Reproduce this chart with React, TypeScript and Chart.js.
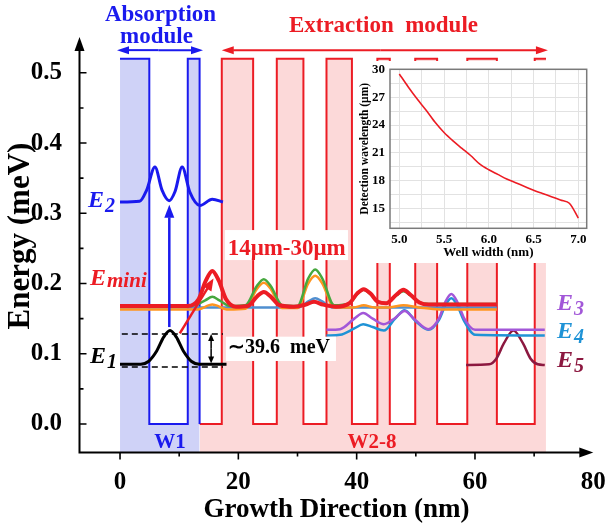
import React, { useEffect, useRef } from "react";
import { Chart, registerables } from "chart.js";

Chart.register(...registerables);

const SERIF = "'Liberation Serif', 'Times New Roman', Times, serif";

// ---------------- main chart axes ----------------
const X_MIN = -6.85;
const X_MAX = 80;
const Y_MIN = -0.0406;
const Y_MAX = 0.551;
const xMajorTicks = [0, 20, 40, 60, 80];
const xMinorTicks = [10, 30, 50, 70];
const yMajorTicks = [0, 0.1, 0.2, 0.3, 0.4, 0.5];
const yMinorTicks = [0.05, 0.15, 0.25, 0.35, 0.45];
const xTitle = "Growth Direction (nm)";
const yTitle = "Energy (meV)";

// ---------------- band profiles ----------------
const absorptionX = [0, 4.95, 4.95, 11.45, 11.45, 13.45, 13.45];
const absorptionY = [0.52, 0.52, 0, 0, 0.52, 0.52, 0];
const extractionX = [13.45, 17.2, 17.2, 22.5, 22.5, 26.5, 26.5, 31.0, 31.0, 34.9, 34.9, 39.2, 39.2, 43.5, 43.5, 45.6, 45.6, 49.9, 49.9, 53.6, 53.6, 58.7, 58.7, 63.7, 63.7, 70.1, 70.1, 72.0];
const extractionY = [0, 0, 0.52, 0.52, 0, 0, 0.52, 0.52, 0, 0, 0.52, 0.52, 0, 0, 0.52, 0.52, 0, 0, 0.52, 0.52, 0, 0, 0.52, 0.52, 0, 0, 0.52, 0.52];

// ---------------- wavefunctions ----------------
const e1X = [0, 3.5, 4.8, 6.2, 7.4, 8.45, 9.5, 10.7, 12.1, 13.4, 18];
const e1Y = [0.085, 0.085, 0.089, 0.104, 0.124, 0.133, 0.124, 0.104, 0.089, 0.085, 0.085];

const e2X = [0, 3.3, 4.5, 5.9, 7.1, 8.3, 9.3, 10.5, 11.8, 13.5, 15.6, 17.4];
const e2Y = [0.316, 0.317, 0.333, 0.366, 0.333, 0.318, 0.331, 0.366, 0.33, 0.311, 0.32, 0.316];

const eminiX = [0, 11.5, 13.3, 14.5, 15.6, 16.7, 17.9, 19.6, 21.6, 23.2, 24.3, 25.4, 27.0, 29.4, 31.4, 32.8, 34.3, 36.5, 38.8, 40.1, 41.2, 42.3, 43.6, 45.0, 46.7, 47.9, 49.1, 50.6, 52.2, 63.7];
const eminiY = [0.168, 0.168, 0.178, 0.204, 0.218, 0.204, 0.178, 0.167, 0.168, 0.182, 0.188, 0.182, 0.169, 0.167, 0.17, 0.174, 0.17, 0.167, 0.172, 0.186, 0.192, 0.186, 0.174, 0.172, 0.184, 0.191, 0.184, 0.173, 0.17, 0.17];

const greenX = [0, 12.5, 14.4, 15.6, 16.8, 18.6, 21.2, 23.1, 24.3, 25.5, 27.4, 30.0, 31.8, 33.0, 34.2, 36.2, 38.8, 40.1, 41.2, 42.3, 43.6, 45.0, 46.7, 47.9, 49.1, 50.6, 52.2, 63.7];
const greenY = [0.169, 0.169, 0.176, 0.181, 0.176, 0.168, 0.169, 0.196, 0.206, 0.196, 0.169, 0.168, 0.207, 0.22, 0.207, 0.169, 0.172, 0.185, 0.191, 0.185, 0.174, 0.172, 0.183, 0.189, 0.183, 0.173, 0.171, 0.171];

const orangeX = [0, 13.0, 15.6, 18.3, 21.2, 23.1, 24.3, 25.5, 27.4, 30.0, 31.8, 33.0, 34.2, 36.2, 39.5, 41.2, 43.0, 45.5, 47.9, 50.5, 54.0, 63.7];
const orangeY = [0.163, 0.163, 0.17, 0.163, 0.164, 0.192, 0.201, 0.192, 0.165, 0.165, 0.2, 0.211, 0.2, 0.166, 0.166, 0.169, 0.166, 0.166, 0.169, 0.166, 0.163, 0.163];

const steelX = [0, 30.2, 31.9, 33.0, 34.1, 35.8, 63.7];
const steelY = [0.166, 0.166, 0.175, 0.179, 0.175, 0.166, 0.166];

const e3X = [34.9, 37.2, 39.6, 41.1, 42.7, 44.6, 46.5, 48.1, 49.9, 52.1, 53.9, 55.0, 56.0, 57.0, 58.2, 60.0, 71.8];
const e3Y = [0.134, 0.135, 0.15, 0.158, 0.15, 0.142, 0.151, 0.161, 0.148, 0.135, 0.15, 0.174, 0.185, 0.174, 0.15, 0.134, 0.134];
const e4X = [34.9, 37.2, 39.6, 41.1, 42.7, 44.6, 46.5, 48.1, 49.9, 52.1, 53.9, 55.0, 56.0, 57.0, 58.2, 60.0, 71.8];
const e4Y = [0.126, 0.127, 0.136, 0.142, 0.138, 0.133, 0.15, 0.162, 0.147, 0.134, 0.148, 0.169, 0.179, 0.169, 0.146, 0.127, 0.126];
const e5X = [58.5, 62.4, 63.6, 64.9, 66.5, 68.1, 69.4, 70.6, 71.8];
const e5Y = [0.084, 0.085, 0.093, 0.115, 0.133, 0.115, 0.093, 0.085, 0.084];

const dashTopX = [0.3, 17.4];
const dashTopY = [0.128, 0.128];
const dashBottomX = [0.3, 17.4];
const dashBottomY = [0.081, 0.081];

// ---------------- inset ----------------
const wellWidth = [5.0, 5.1, 5.2, 5.3, 5.4, 5.5, 5.6, 5.7, 5.8, 5.9, 6.0, 6.1, 6.2, 6.3, 6.4, 6.5, 6.6, 6.7, 6.8, 6.9, 7.0];
const detectionWavelength = [29.5, 28.1, 26.8, 25.6, 24.3, 23.2, 22.3, 21.5, 20.7, 19.8, 19.2, 18.7, 18.2, 17.8, 17.4, 17.0, 16.65, 16.3, 15.95, 15.6, 14.0];
const insetXTicks = [5.0, 5.25, 5.5, 5.75, 6.0, 6.25, 6.5, 6.75, 7.0];
const insetYTicks = [13.5, 15, 16.5, 18, 19.5, 21, 22.5, 24, 25.5, 27, 28.5, 30];

// ---------------- colours ----------------
const BLUE = "#1a1aee";
const RED = "#ec1c24";
const PINK = "#fcd9d9";
const LAVENDER = "#cfd2f7";
const GREEN = "#46a83e";
const ORANGE = "#ff951f";
const STEEL = "#4f8fd0";
const PURPLE = "#a257d8";
const SKY = "#1f93d6";
const MAROON = "#8c1840";

const zip = (xs: number[], ys: number[]) => xs.map((x, i) => ({ x, y: ys[i] }));

// ---------------- annotations ----------------
const ARROWS = [
  { x1: 6.5, y1: 0.5323, x2: -0.51, y2: 0.5323, color: BLUE, width: 2, len: 12, half: 4 },
  { x1: 6.5, y1: 0.5323, x2: 14.03, y2: 0.5323, color: BLUE, width: 2, len: 12, half: 4 },
  { x1: 44, y1: 0.5323, x2: 17.19, y2: 0.5323, color: RED, width: 2, len: 12, half: 4 },
  { x1: 44, y1: 0.5323, x2: 72.33, y2: 0.5323, color: RED, width: 2, len: 12, half: 4 },
  { x1: 8.33, y1: 0.138, x2: 8.33, y2: 0.312, color: BLUE, width: 2.5, len: 13, half: 5 },
  { x1: 10.1, y1: 0.129, x2: 15.8, y2: 0.207, color: RED, width: 2.5, len: 12, half: 5 },
  { x1: 15.4, y1: 0.107, x2: 15.4, y2: 0.128, color: "#000", width: 1.5, len: 7, half: 3 },
  { x1: 15.4, y1: 0.107, x2: 15.4, y2: 0.086, color: "#000", width: 1.5, len: 7, half: 3 },
];

const BOXES = [
  { x1: 17.75, x2: 38.53, y1: 0.2334, y2: 0.2761 },
  { x1: 17.9, x2: 36.5, y1: 0.0897, y2: 0.1243 },
];

const TEXTS = [
  { text: "Absorption", x: 6.84, y: 0.574, size: 23, color: BLUE, align: "center" },
  { text: "module", x: 6.17, y: 0.5419, size: 23, color: BLUE, align: "center" },
  { text: "Extraction  module", x: 44.53, y: 0.5575, size: 23, color: RED, align: "center" },
  { text: "14\u03bcm-30\u03bcm", x: 28.17, y: 0.2405, size: 23, color: RED, align: "center" },
  { text: "\u223c39.6  meV", x: 18.25, y: 0.1006, size: 20, color: "#000", align: "left" },
  { text: "W1", x: 8.45, y: -0.0346, size: 21, color: BLUE, align: "center" },
  { text: "W2-8", x: 42.59, y: -0.0346, size: 21, color: RED, align: "center" },
];

const LEVEL_LABELS = [
  { main: "E", sub: "2", x: -5.41, y: 0.3089, color: BLUE, dy: 5 },
  { main: "E", sub: "1", x: -5.07, y: 0.0868, color: "#000", dy: 5 },
  { main: "E", sub: "mini", x: -5.07, y: 0.1978, color: RED, dy: 2 },
  { main: "E", sub: "3", x: 73.85, y: 0.1623, color: PURPLE, dy: 5 },
  { main: "E", sub: "4", x: 73.85, y: 0.1224, color: SKY, dy: 5 },
  { main: "E", sub: "5", x: 73.85, y: 0.0811, color: MAROON, dy: 5 },
];

function drawArrow(ctx: CanvasRenderingContext2D, fx: number, fy: number, tx: number, ty: number, a: any) {
  const ang = Math.atan2(ty - fy, tx - fx);
  const bx = tx - a.len * Math.cos(ang);
  const by = ty - a.len * Math.sin(ang);
  ctx.strokeStyle = a.color;
  ctx.fillStyle = a.color;
  ctx.lineWidth = a.width;
  ctx.beginPath();
  ctx.moveTo(fx, fy);
  ctx.lineTo(bx + 0.5 * Math.cos(ang), by + 0.5 * Math.sin(ang));
  ctx.stroke();
  ctx.beginPath();
  ctx.moveTo(tx, ty);
  ctx.lineTo(bx + a.half * Math.sin(ang), by - a.half * Math.cos(ang));
  ctx.lineTo(bx - a.half * Math.sin(ang), by + a.half * Math.cos(ang));
  ctx.closePath();
  ctx.fill();
}

const mainDecor = {
  id: "mainDecor",
  afterDatasetsDraw(chart: any) {
    const { ctx, scales } = chart;
    const X = (v: number) => scales.x.getPixelForValue(v);
    const Y = (v: number) => scales.y.getPixelForValue(v);
    ctx.save();
    for (const b of BOXES) {
      ctx.fillStyle = "#ffffff";
      ctx.fillRect(X(b.x1), Y(b.y2), X(b.x2) - X(b.x1), Y(b.y1) - Y(b.y2));
    }
    for (const a of ARROWS) drawArrow(ctx, X(a.x1), Y(a.y1), X(a.x2), Y(a.y2), a);
    ctx.textBaseline = "alphabetic";
    for (const t of TEXTS) {
      ctx.font = `bold ${t.size}px ${SERIF}`;
      ctx.fillStyle = t.color;
      ctx.textAlign = t.align as CanvasTextAlign;
      ctx.fillText(t.text, X(t.x), Y(t.y));
    }
    ctx.textAlign = "left";
    for (const l of LEVEL_LABELS) {
      ctx.fillStyle = l.color;
      ctx.font = `italic bold 24px ${SERIF}`;
      const px = X(l.x);
      const py = Y(l.y);
      ctx.fillText(l.main, px, py);
      const w = ctx.measureText(l.main).width;
      ctx.font = `italic bold ${l.sub.length > 1 ? 21 : 20}px ${SERIF}`;
      ctx.fillText(l.sub, px + w + 1, py + l.dy);
    }
    ctx.restore();
  },
  afterDraw(chart: any) {
    const { ctx, chartArea: ca, scales } = chart;
    const X = (v: number) => scales.x.getPixelForValue(v);
    const Y = (v: number) => scales.y.getPixelForValue(v);
    ctx.save();
    ctx.strokeStyle = "#000";
    ctx.fillStyle = "#000";
    ctx.lineWidth = 2;
    ctx.beginPath();
    ctx.moveTo(ca.left, ca.bottom);
    ctx.lineTo(ca.left, ca.top + 10);
    ctx.moveTo(ca.left - 1, ca.bottom);
    ctx.lineTo(ca.right - 10, ca.bottom);
    ctx.stroke();
    ctx.beginPath();
    ctx.moveTo(ca.left, ca.top);
    ctx.lineTo(ca.left - 5, ca.top + 14);
    ctx.lineTo(ca.left + 5, ca.top + 14);
    ctx.closePath();
    ctx.fill();
    ctx.beginPath();
    ctx.moveTo(ca.right, ca.bottom);
    ctx.lineTo(ca.right - 14, ca.bottom - 5);
    ctx.lineTo(ca.right - 14, ca.bottom + 5);
    ctx.closePath();
    ctx.fill();
    ctx.lineWidth = 1.6;
    ctx.beginPath();
    for (const v of yMajorTicks) { ctx.moveTo(ca.left, Y(v)); ctx.lineTo(ca.left + 7, Y(v)); }
    for (const v of yMinorTicks) { ctx.moveTo(ca.left, Y(v)); ctx.lineTo(ca.left + 4, Y(v)); }
    for (const v of xMajorTicks) { if (v < 80) { ctx.moveTo(X(v), ca.bottom); ctx.lineTo(X(v), ca.bottom + 7); } }
    for (const v of xMinorTicks) { ctx.moveTo(X(v), ca.bottom); ctx.lineTo(X(v), ca.bottom + 4); }
    ctx.stroke();
    // y-axis title
    ctx.translate(21, 236);
    ctx.rotate(-Math.PI / 2);
    ctx.font = `bold 31px ${SERIF}`;
    ctx.textAlign = "center";
    ctx.textBaseline = "middle";
    ctx.fillText(yTitle, 0, 0);
    ctx.restore();
  },
};

const insetDecor = {
  id: "insetDecor",
  beforeDraw(chart: any) {
    const { ctx, width, height } = chart;
    ctx.save();
    ctx.fillStyle = "#ffffff";
    ctx.fillRect(0, 0, width, height);
    ctx.restore();
  },
  afterDraw(chart: any) {
    const { ctx, chartArea: ca } = chart;
    ctx.save();
    ctx.strokeStyle = "#7a7a7a";
    ctx.lineWidth = 1.5;
    ctx.strokeRect(ca.left, ca.top, ca.right - ca.left, ca.bottom - ca.top);
    ctx.restore();
  },
};

function lineSet(label: string, xs: number[], ys: number[], color: string, width: number, order: number, extra: any = {}) {
  return {
    label,
    data: zip(xs, ys),
    borderColor: color,
    backgroundColor: color,
    borderWidth: width,
    pointRadius: 0,
    cubicInterpolationMode: "monotone",
    fill: false,
    order,
    ...extra,
  };
}

export default function App() {
  const mainRef = useRef<HTMLCanvasElement>(null);
  const insetRef = useRef<HTMLCanvasElement>(null);

  useEffect(() => {
    const tickFont = { family: SERIF, size: 25, weight: "bold" as const };
    const main = new Chart(mainRef.current!, {
      type: "line",
      data: {
        datasets: [
          lineSet("E1", e1X, e1Y, "#000", 3, 1),
          lineSet("E2", e2X, e2Y, BLUE, 3, 2),
          lineSet("Emini", eminiX, eminiY, RED, 4, 3),
          lineSet("green", greenX, greenY, GREEN, 2.5, 4),
          lineSet("orange", orangeX, orangeY, ORANGE, 2.5, 5),
          lineSet("steel", steelX, steelY, STEEL, 2.5, 6),
          lineSet("E3", e3X, e3Y, PURPLE, 2.5, 7),
          lineSet("E4", e4X, e4Y, SKY, 2.5, 8),
          lineSet("E5", e5X, e5Y, MAROON, 2.5, 9),
          lineSet("dashTop", dashTopX, dashTopY, "#000", 1.5, 10, { borderDash: [6, 4], cubicInterpolationMode: "default" }),
          lineSet("dashBottom", dashBottomX, dashBottomY, "#000", 1.5, 11, { borderDash: [6, 4], cubicInterpolationMode: "default" }),
          lineSet("absorption", absorptionX, absorptionY, BLUE, 2, 20, { fill: "start", backgroundColor: LAVENDER, cubicInterpolationMode: "default", tension: 0 }),
          lineSet("extraction", extractionX, extractionY, RED, 2, 21, { fill: "start", backgroundColor: PINK, cubicInterpolationMode: "default", tension: 0 }),
        ] as any,
      },
      options: {
        responsive: false,
        animation: false,
        devicePixelRatio: 1,
        layout: { padding: { left: 0, right: 12.7, top: 37, bottom: 0 } },
        plugins: { legend: { display: false }, tooltip: { enabled: false } },
        scales: {
          x: {
            type: "linear",
            min: X_MIN,
            max: X_MAX,
            grid: { display: false },
            border: { display: false },
            afterBuildTicks: (s: any) => { s.ticks = xMajorTicks.map((v) => ({ value: v })); },
            afterFit: (s: any) => { s.height = 78.5; s.paddingLeft = 0; s.paddingRight = 0; },
            ticks: { font: tickFont, color: "#000", padding: 7, maxRotation: 0, autoSkip: false, callback: (v: any) => String(v) },
            title: { display: true, text: xTitle, color: "#000", font: { family: SERIF, size: 27, weight: "bold" }, padding: { top: 0, bottom: 5 } },
          },
          y: {
            type: "linear",
            min: Y_MIN,
            max: Y_MAX,
            grid: { display: false },
            border: { display: false },
            afterBuildTicks: (s: any) => { s.ticks = yMajorTicks.map((v) => ({ value: v })); },
            afterFit: (s: any) => { s.width = 79.5; s.paddingTop = 0; s.paddingBottom = 0; },
            ticks: { font: tickFont, color: "#000", padding: 9.5, autoSkip: false, callback: (v: any) => Number(v).toFixed(1) },
            title: { display: false, text: yTitle },
          },
        },
      } as any,
      plugins: [mainDecor],
    });

    const insetFont = { family: SERIF, size: 13, weight: "bold" as const };
    const inset = new Chart(insetRef.current!, {
      type: "line",
      data: {
        datasets: [
          {
            label: "Detection wavelength",
            data: zip(wellWidth, detectionWavelength),
            borderColor: RED,
            borderWidth: 1.6,
            pointRadius: 0,
            tension: 0.3,
            fill: false,
          },
        ],
      },
      options: {
        responsive: false,
        animation: false,
        devicePixelRatio: 1,
        layout: { padding: { left: 0, right: 13.3, top: 8.3, bottom: 0 } },
        plugins: { legend: { display: false }, tooltip: { enabled: false } },
        scales: {
          x: {
            type: "linear",
            min: 4.896,
            max: 7.094,
            grid: { color: "#e2e2e2", lineWidth: 1, drawTicks: false },
            border: { display: false },
            afterBuildTicks: (s: any) => { s.ticks = insetXTicks.map((v) => ({ value: v })); },
            afterFit: (s: any) => { s.height = 34.7; s.paddingLeft = 0; s.paddingRight = 0; },
            ticks: {
              font: insetFont, color: "#000", padding: 4, maxRotation: 0, autoSkip: false,
              callback: (v: any) => (Math.abs(v * 2 - Math.round(v * 2)) < 1e-6 ? Number(v).toFixed(1) : ""),
            },
            title: { display: true, text: "Well width (nm)", color: "#000", font: insetFont, padding: { top: 0, bottom: 2.5 } },
          },
          y: {
            type: "linear",
            min: 12.9,
            max: 30,
            grid: { color: "#e2e2e2", lineWidth: 1, drawTicks: false },
            border: { display: false },
            afterBuildTicks: (s: any) => { s.ticks = insetYTicks.map((v) => ({ value: v })); },
            afterFit: (s: any) => { s.width = 35; s.paddingTop = 0; s.paddingBottom = 0; },
            ticks: {
              font: insetFont, color: "#000", padding: 5, autoSkip: false,
              callback: (v: any) => (Math.abs(v % 3) < 1e-6 ? String(v) : ""),
            },
            title: { display: true, text: "Detection wavelength (\u03bcm)", color: "#000", font: { family: SERIF, size: 11.5, weight: "bold" }, padding: { top: 3, bottom: 0 } },
          },
        },
      } as any,
      plugins: [insetDecor],
    });

    return () => {
      main.destroy();
      inset.destroy();
    };
  }, []);

  return (
    <div style={{ position: "absolute", left: 0, top: 0, width: 606, height: 531, background: "#fff" }}>
      <canvas ref={mainRef} width={606} height={531} style={{ position: "absolute", left: 0, top: 0, width: 606, height: 531 }} />
      <canvas ref={insetRef} width={245} height={202} style={{ position: "absolute", left: 355, top: 61, width: 245, height: 202 }} />
    </div>
  );
}
